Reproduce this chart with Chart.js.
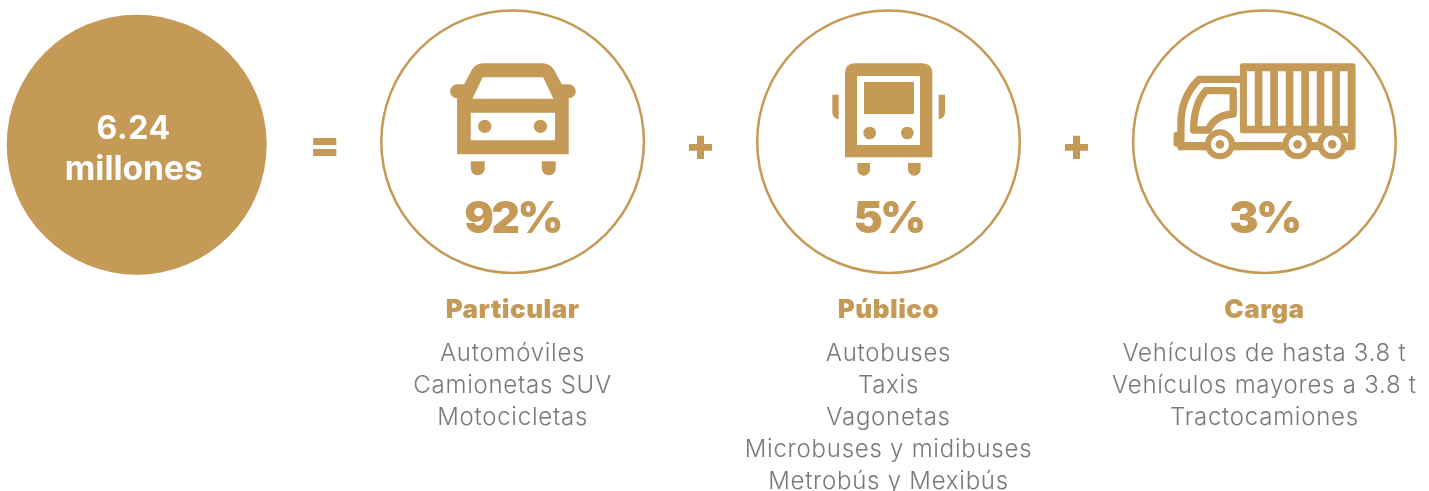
<!DOCTYPE html>
<html lang="es">
<head>
<meta charset="utf-8">
<title>6.24 millones</title>
<script src="https://cdn.jsdelivr.net/npm/chart.js@4"></script>
<style>
    html, body { margin: 0; padding: 0; background: #fff; }
    #wrap { width: 1429px; height: 491px; }
</style>
</head>
<body>
<div id="wrap"><canvas id="grafica" width="1429" height="491"></canvas></div>
<script>
// datos
const totalValor = "6.24";
const totalUnidad = "millones";
const categorias = ["Particular", "Público", "Carga"];
const porcentajes = [92, 5, 3];
const detallePublico = ["Autobuses", "Taxis", "Vagonetas", "Microbuses y midibuses", "Metrobús y Mexibús"];
const detalleParticular = ["Automóviles", "Camionetas SUV", "Motocicletas"];
const detalleCarga = ["Vehículos de hasta 3.8 t", "Vehículos mayores a 3.8 t", "Tractocamiones"];
const operadores = ["=", "+", "+"];

const detalles = [detalleParticular, detallePublico, detalleCarga];
const dorado = "#c49a56";
const gris = "#77787a";

// iconos dibujados en una rejilla propia (3 unidades = 1px), el centro es el del circulo
const iconos = [
    {
        cx: 427.5, cy: 425,
        solido: [
            "M282 253 L305 210 Q316 190 340 190 L517 190 Q540 190 552 210 L575 253 L596 253 A21 21 0 0 1 596 295 L596 463 L261 463 L261 295 A21 21 0 0 1 261 253 Z " +
            "M338 232 L519 232 L550 296 L307 296 Z M302 338 L555 338 L555 421 L302 421 Z",
            "M302 484 H344 V505 A21 21 0 0 1 302 505 Z",
            "M515 484 H557 V505 A21 21 0 0 1 515 505 Z",
            "M324 379 A20 20 0 1 0 364 379 A20 20 0 1 0 324 379 Z",
            "M491 379 A20 20 0 1 0 531 379 A20 20 0 1 0 491 379 Z"
        ]
    },
    {
        cx: 415.5, cy: 425,
        solido: [
            "M285 220 Q285 190 315 190 L517 190 Q547 190 547 220 L547 472 L285 472 Z M321 228 L321 435 L510 435 L510 228 Z",
            "M342 246 H492 V342 H342 Z",
            "M340 399 A19 19 0 1 0 378 399 A19 19 0 1 0 340 399 Z",
            "M453 399 A19 19 0 1 0 491 399 A19 19 0 1 0 453 399 Z",
            "M322 489 H360 V508 A19 19 0 0 1 322 508 Z",
            "M474 489 H512 V508 A19 19 0 0 1 474 508 Z",
            "M247 284 H266 V358 Q247 355 247 335 Z",
            "M566 284 H585 V335 Q585 355 566 358 Z"
        ]
    },
    {
        cx: 418.5, cy: 425,
        solido: [
            "M353 190 H684 Q692 190 692 198 V392 Q692 400 684 400 H353 Q345 400 345 392 V198 Q345 190 353 190 Z " +
            "M366 214 V377 H389.5 V214 Z M412.5 214 V377 H436 V214 Z M459 214 V377 H482.5 V214 Z M505.5 214 V377 H529 V214 Z " +
            "M552 214 V377 H575.5 V214 Z M598.5 214 V377 H622 V214 Z M645 214 V377 H668.5 V214 Z",
            "M669 395 H692 V440 Q692 450 682 450 L669 450 Z",
            "M160 426 H680 V451 H160 Z",
            "M154 395 H172 V440 H154 Q146 440 146 432 V403 Q146 395 154 395 Z"
        ],
        linea: [
            "M345 238 L222 238 C190 270 168 310 168 370 L168 440",
            "M325 272 L243 272 Q207 310 206 390 L250 390 Q270 345 325 342 Z"
        ],
        // ruedas: x, y
        ruedas: [[285, 433], [518, 433], [622, 433]]
    }
];

function dibujarIcono(ctx, icono, x, y) {
    ctx.save();
    ctx.translate(x, y);
    ctx.scale(1 / 3, 1 / 3);
    ctx.translate(-icono.cx, -icono.cy);
    ctx.fillStyle = dorado;
    ctx.strokeStyle = dorado;
    icono.solido.forEach(d => ctx.fill(new Path2D(d), "evenodd"));
    if (icono.linea) {
        ctx.lineWidth = 22;
        ctx.lineJoin = "round";
        ctx.lineCap = "round";
        icono.linea.forEach(d => ctx.stroke(new Path2D(d)));
    }
    if (icono.ruedas) {
        icono.ruedas.forEach(r => {
            [[45, dorado], [27, "#fff"], [13, dorado]].forEach(c => {
                ctx.fillStyle = c[1];
                ctx.beginPath();
                ctx.arc(r[0], r[1], c[0], 0, Math.PI * 2);
                ctx.fill();
            });
        });
    }
    ctx.restore();
}

function texto(ctx, str, x, y, fuente, color, espacio) {
    ctx.font = fuente;
    ctx.fillStyle = color;
    ctx.letterSpacing = (espacio || 0) + "px";
    ctx.textAlign = "center";
    ctx.textBaseline = "alphabetic";
    ctx.fillText(str, x, y);
}

const textosPlugin = {
    id: "textos",
    afterDatasetsDraw(chart) {
        const ctx = chart.ctx;
        const sx = chart.scales.x;
        const sy = chart.scales.y;
        ctx.save();

        texto(ctx, totalValor, sx.getPixelForValue(0) - 3, sy.getPixelForValue(138.5), "700 32px Inter", "#fff", 0.6);
        texto(ctx, totalUnidad, sx.getPixelForValue(0) - 3, sy.getPixelForValue(180), "700 33.5px Inter", "#fff", 0);

        operadores.forEach((op, i) => {
            texto(ctx, op, sx.getPixelForValue(i + 0.5), sy.getPixelForValue(159.5), "900 44px Inter", dorado);
        });

        categorias.forEach((cat, i) => {
            const x = sx.getPixelForValue(i + 1);
            dibujarIcono(ctx, iconos[i], x, sy.getPixelForValue(141.7));
            texto(ctx, porcentajes[i] + "%", x, sy.getPixelForValue(233), "900 44px Inter", dorado, -2.5);
            texto(ctx, cat, x, sy.getPixelForValue(318), "900 26px Inter", dorado, 0.5);
            detalles[i].forEach((linea, j) => {
                texto(ctx, linea, x, sy.getPixelForValue(361 + j * 32), "300 24px Inter", gris, 0.75);
            });
        });
        ctx.restore();
    }
};

new Chart(document.getElementById("grafica"), {
    type: "scatter",
    data: {
        datasets: [
            {
                label: "Total",
                data: [{ x: 0, y: 144.7 }],
                pointRadius: 130,
                pointBackgroundColor: dorado,
                pointBorderWidth: 0
            },
            {
                label: "Tipo",
                data: categorias.map((c, i) => ({ x: i + 1, y: 141.7 })),
                pointRadius: 131.3,
                pointBackgroundColor: "#fff",
                pointBorderColor: dorado,
                pointBorderWidth: 2.5
            }
        ]
    },
    options: {
        responsive: false,
        animation: false,
        layout: { padding: 0, autoPadding: false },
        events: [],
        clip: false,
        plugins: {
            legend: { display: false },
            tooltip: { enabled: false }
        },
        scales: {
            x: { type: "linear", display: false, min: -136.7 / 375.9, max: (1429 - 136.7) / 375.9 },
            y: { type: "linear", display: false, min: 0, max: 491, reverse: true }
        }
    },
    plugins: [textosPlugin]
});
</script>
</body>
</html>
